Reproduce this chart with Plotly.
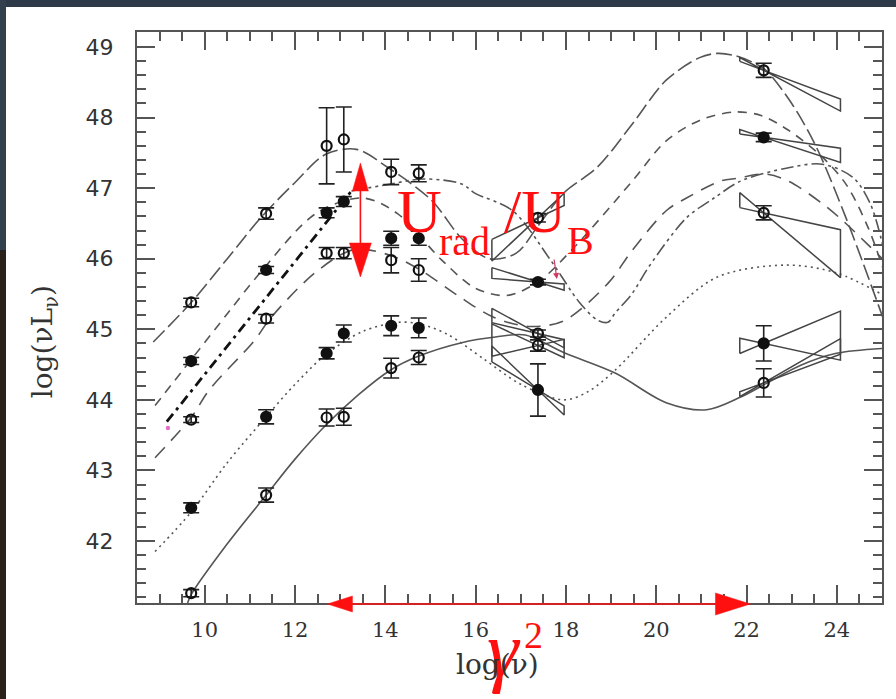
import plotly.graph_objects as go

# ---------------- data ----------------
nu_obs = [9.7, 11.36, 12.7, 13.08, 14.13, 14.74, 17.38, 22.38]

lum_a = [45.38, 46.64, 47.60, 47.69, 47.23, 47.21, 46.58, 48.67]
err_a = [0.06, 0.08, 0.54, 0.46, 0.18, 0.12, 0.06, 0.10]
lum_b = [44.55, 45.84, 46.65, 46.81, 46.29, 46.29, 45.67, 47.72]
err_b = [0.05, 0.05, 0.07, 0.07, 0.10, 0.10, 0.04, 0.06]
lum_c = [43.72, 45.15, 46.08, 46.08, 45.98, 45.84, 44.94, 46.65]
err_c = [0.04, 0.06, 0.08, 0.08, 0.18, 0.16, 0.05, 0.10]
lum_d = [42.47, 43.76, 44.66, 44.94, 45.05, 45.02, 44.14, 44.80]
err_d = [0.07, 0.10, 0.08, 0.12, 0.14, 0.14, 0.37, 0.25]
lum_e = [41.26, 42.65, 43.75, 43.76, 44.45, 44.60, 44.77, 44.24]
err_e = [0.05, 0.10, 0.12, 0.12, 0.14, 0.10, 0.08, 0.20]

# model curves (long dash, short dash, long-gap dash, dash-dot-dot, dotted, solid)
curve_a_x = [8.86, 9.7, 10.5, 11.24, 12.0, 12.68, 13.36, 14.04, 15.02, 15.7, 16.3, 16.9, 17.4, 17.95, 18.7,
             19.47, 20.22, 20.96, 21.35, 21.73, 22.18, 22.43, 23.0, 23.54, 24.22, 25.04]
curve_a_y = [44.82, 45.38, 46.0, 46.58, 47.08, 47.48, 47.55, 47.3, 46.83, 46.28, 46.0, 46.08, 46.48, 46.93,
             47.3, 47.91, 48.53, 48.85, 48.91, 48.88, 48.77, 48.67, 48.2, 47.59, 46.55, 45.13]
curve_b_x = [8.9, 9.7, 10.5, 11.24, 12.46, 13.5, 14.27, 15.25, 16.0, 16.7, 17.4, 18.18, 19.47, 20.22,
             20.96, 21.73, 22.32, 22.93, 23.68, 24.22, 24.7, 25.04]
curve_b_y = [43.92, 44.57, 45.22, 45.81, 46.64, 46.86, 46.64, 45.98, 45.58, 45.48, 45.68, 46.16, 47.1, 47.67,
             47.96, 48.08, 48.03, 47.82, 47.44, 47.04, 46.43, 45.83]
curve_c_x = [8.9, 9.7, 10.1, 11.1, 11.46, 12.46, 13.3, 14.1, 14.8, 15.6, 16.4, 17.2, 17.95, 18.93, 19.47,
             20.22, 20.67, 21.42, 21.8, 22.41, 22.93, 23.68, 24.13, 24.67, 25.04]
curve_c_y = [43.18, 43.75, 44.14, 44.84, 45.16, 45.81, 46.13, 46.05, 45.83, 45.48, 45.17, 45.04, 45.12, 45.65,
             46.12, 46.68, 46.86, 47.1, 47.14, 47.2, 47.1, 46.78, 46.54, 46.21, 45.98]
curve_f_x = [13.25, 14.04, 14.86, 15.69, 15.98, 16.82, 17.66, 18.3, 18.7, 18.93, 19.09, 19.47, 19.83,
             20.67, 21.28, 21.87, 22.93, 23.68, 24.36, 24.74, 25.04]
curve_f_y = [46.96, 47.05, 47.13, 47.06, 46.93, 46.68, 45.98, 45.38, 45.13, 45.1, 45.23, 45.51, 45.88,
             46.58, 46.86, 47.1, 47.29, 47.34, 47.15, 46.78, 46.13]
curve_d_x = [8.9, 9.7, 10.5, 11.36, 12.0, 12.68, 13.5, 14.3, 14.8, 15.4, 16.2, 17.0, 17.95, 18.5, 19.09,
             20.22, 21.35, 22.86, 23.99, 25.04]
curve_d_y = [41.85, 42.41, 43.11, 43.76, 44.22, 44.64, 44.97, 45.1, 45.07, 44.92, 44.57, 44.22, 44.0, 44.12,
             44.42, 45.17, 45.74, 45.91, 45.8, 45.48]
curve_e_x = [9.62, 9.7, 10.5, 11.36, 12.0, 12.68, 13.4, 14.11, 14.74, 15.69, 16.44, 17.1, 17.95, 19.09,
             20.22, 21.12, 21.87, 22.46, 23.2, 23.99, 25.04]
curve_e_y = [41.12, 41.24, 41.96, 42.65, 43.16, 43.64, 44.07, 44.42, 44.62, 44.81, 44.89, 44.92, 44.67, 44.38,
             43.96, 43.86, 44.04, 44.24, 44.49, 44.66, 44.73]

# hand-drawn dash-dot extension
extension_x = [9.16, 13.25]
extension_y = [43.69, 46.96]

# spectral bow-ties: band edges and the two limiting slopes per object
xray_band = [16.36, 17.96]
gamma_band = [21.85, 24.08]
xray_slopes = {"a": (0.30, 0.60), "b": (-0.20, -0.05), "c": (-0.35, -0.15), "d": (-0.39, -0.61), "e": (0.15, -0.30)}
gamma_slopes = {"a": (-0.24, -0.34), "b": (-0.09, -0.21), "c": (-0.14, -0.54), "d": (0.27, -0.14), "e": (0.37, 0.24)}

# ---------------- figure ----------------
fig = go.Figure()
LINE_COL = "#555555"

curve_specs = [
    (curve_a_x, curve_a_y, "16px,5px"),
    (curve_b_x, curve_b_y, "9px,7px"),
    (curve_c_x, curve_c_y, "14px,9px"),
    (curve_f_x, curve_f_y, "13px,4px,3px,4px,3px,4px"),
    (curve_d_x, curve_d_y, "2px,4px"),
    (curve_e_x, curve_e_y, "solid"),
]
for cx, cy, dash in curve_specs:
    fig.add_trace(go.Scatter(x=cx, y=cy, mode="lines",
                             line=dict(color=LINE_COL, width=1.6, dash=dash, shape="spline", smoothing=0.9),
                             hoverinfo="skip"))

series = {"a": lum_a, "b": lum_b, "c": lum_c, "d": lum_d, "e": lum_e}


def bowtie(x0, y0, band, slopes):
    xl, xr = band
    s1, s2 = slopes
    xs = [xl, xr, xr, xl, xl]
    ys = [y0 + s1 * (xl - x0), y0 + s1 * (xr - x0), y0 + s2 * (xr - x0), y0 + s2 * (xl - x0),
          y0 + s1 * (xl - x0)]
    return xs, ys


for key, lum in series.items():
    for idx, band, slopes in ((6, xray_band, xray_slopes[key]), (7, gamma_band, gamma_slopes[key])):
        bx, by = bowtie(nu_obs[idx], lum[idx], band, slopes)
        fig.add_trace(go.Scatter(x=bx, y=by, mode="lines", line=dict(color="#444444", width=1.5),
                                 hoverinfo="skip"))

point_specs = [
    (lum_a, err_a, "circle-open"),
    (lum_b, err_b, "circle"),
    (lum_c, err_c, "circle-open"),
    (lum_d, err_d, "circle"),
    (lum_e, err_e, "circle-open"),
]
for lum, err, sym in point_specs:
    fig.add_trace(go.Scatter(
        x=nu_obs, y=lum, mode="markers",
        marker=dict(symbol=sym, size=10, color="#111111", line=dict(color="#111111", width=2.2)),
        error_y=dict(type="data", array=err, visible=True, color="#222222", thickness=1.6, width=8),
        hoverinfo="skip"))

fig.add_trace(go.Scatter(x=extension_x, y=extension_y, mode="lines",
                         line=dict(color="#111111", width=2.8, dash="10px,5px,3px,5px"), hoverinfo="skip"))

# ---------------- layout ----------------
PL, PR, PT, PB = 137, 884, 32, 603


def P(px, py):
    return (px - PL) / (PR - PL), (PB - py) / (PB - PT)


def tri(pts):
    s = []
    for i, (px, py) in enumerate(pts):
        x, y = P(px, py)
        s.append(("M" if i == 0 else "L") + f"{x:.5f},{y:.5f}")
    return " ".join(s) + " Z"


RED = "#ff1010"
shapes = []
annotations = []

# dark photo border (top band, left strip) drawn as filled boxes
for (x0, y0, w, h, col) in [(0, 0, 896, 7, "#2e3a47"), (0, 0, 6, 250, "#33414f"), (0, 250, 6, 449, "#2a2218")]:
    ax_, ay_ = P(x0, y0)
    annotations.append(dict(x=ax_, y=ay_, xref="paper", yref="paper", xanchor="left", yanchor="top",
                            showarrow=False, text=" ", width=w, height=h, bgcolor=col,
                            borderpad=0, borderwidth=0, font=dict(size=1, color=col)))

# vertical red double arrow
xa = 361
l0 = P(xa, 188)
l1 = P(xa, 245)
shapes.append(dict(type="line", xref="paper", yref="paper", x0=l0[0], y0=l0[1], x1=l1[0], y1=l1[1],
                   line=dict(color=RED, width=1.6)))
shapes.append(dict(type="path", xref="paper", yref="paper", path=tri([(xa, 163), (xa - 8, 191), (xa + 8, 191)]),
                   fillcolor=RED, line=dict(color=RED, width=0.5)))
shapes.append(dict(type="path", xref="paper", yref="paper", path=tri([(xa, 277), (xa - 11, 243), (xa + 11, 243)]),
                   fillcolor=RED, line=dict(color=RED, width=0.5)))
# horizontal red double arrow
ya = 604
h0 = P(350, ya)
h1 = P(720, ya)
shapes.append(dict(type="line", xref="paper", yref="paper", x0=h0[0], y0=h0[1], x1=h1[0], y1=h1[1],
                   line=dict(color=RED, width=1.6)))
shapes.append(dict(type="path", xref="paper", yref="paper", path=tri([(328, ya), (353, ya - 8), (353, ya + 8)]),
                   fillcolor=RED, line=dict(color=RED, width=0.5)))
shapes.append(dict(type="path", xref="paper", yref="paper", path=tri([(752, ya), (717, ya - 11), (717, ya + 11)]),
                   fillcolor=RED, line=dict(color=RED, width=0.5)))
# small pink mark
pk = P(168, 428)
shapes.append(dict(type="circle", xref="paper", yref="paper", x0=pk[0] - 0.003, x1=pk[0] + 0.003,
                   y0=pk[1] - 0.004, y1=pk[1] + 0.004, fillcolor="#e070c8", line=dict(width=0)))


def txt(text, px, py, size, family="Liberation Serif", color=RED, xanchor="left", angle=0, italic=False):
    x, y = P(px, py)
    annotations.append(dict(text=text, x=x, y=y, xref="paper", yref="paper", showarrow=False,
                            xanchor=xanchor, yanchor="middle", textangle=angle,
                            font=dict(family=family, size=size, color=color,
                                      style="italic" if italic else "normal")))


txt("U", 396, 211, 62)
txt("rad", 438, 242, 40)
txt("/U", 503, 211, 62)
txt("B", 566, 240, 40)
txt("γ", 486, 650, 80, italic=True)
txt("2", 523, 635, 38)
txt("log(ν)", 498, 664, 28, family="DejaVu Serif", color="#333333", xanchor="center")
txt("log(νL<sub>ν</sub>)", 44, 342, 28, family="DejaVu Serif", color="#333333", xanchor="center", angle=-90)

# small red arrow pointing at the X-ray point
a_tip = P(558, 279)
annotations.append(dict(x=a_tip[0], y=a_tip[1], ax=-3, ay=-21, xref="paper", yref="paper",
                        axref="pixel", ayref="pixel", showarrow=True, arrowhead=2, arrowsize=1,
                        arrowwidth=1.2, arrowcolor="#d03860", text=""))

fig.update_layout(
    width=896, height=699,
    margin=dict(l=PL, r=896 - PR, t=PT, b=699 - PB),
    paper_bgcolor="white", plot_bgcolor="white",
    showlegend=False,
    shapes=shapes, annotations=annotations,
)
fig.update_xaxes(
    range=[8.5, 25.0], tickvals=[10, 12, 14, 16, 18, 20, 22, 24],
    ticks="inside", ticklen=18, tickwidth=1.5, tickcolor=LINE_COL,
    showline=True, linecolor=LINE_COL, linewidth=2, mirror="allticks",
    showgrid=False, zeroline=False,
    minor=dict(dtick=0.5, tick0=0, ticks="inside", ticklen=9, tickwidth=1.5, tickcolor=LINE_COL, showgrid=False),
    tickfont=dict(family="DejaVu Serif", size=21, color="#333333"),
    ticklabelstandoff=7,
)
fig.update_yaxes(
    range=[41.121, 49.213], tickvals=[42, 43, 44, 45, 46, 47, 48, 49],
    ticks="inside", ticklen=18, tickwidth=1.5, tickcolor=LINE_COL,
    showline=True, linecolor=LINE_COL, linewidth=2, mirror="allticks",
    showgrid=False, zeroline=False,
    minor=dict(dtick=0.2, tick0=0, ticks="inside", ticklen=9, tickwidth=1.5, tickcolor=LINE_COL, showgrid=False),
    tickfont=dict(family="DejaVu Sans", size=22, color="#333333"),
    ticklabelstandoff=17,
)

fig.write_html("out.html", config={"displayModeBar": False},
               post_script="document.body.style.margin='0px';document.body.style.overflow='hidden';")
